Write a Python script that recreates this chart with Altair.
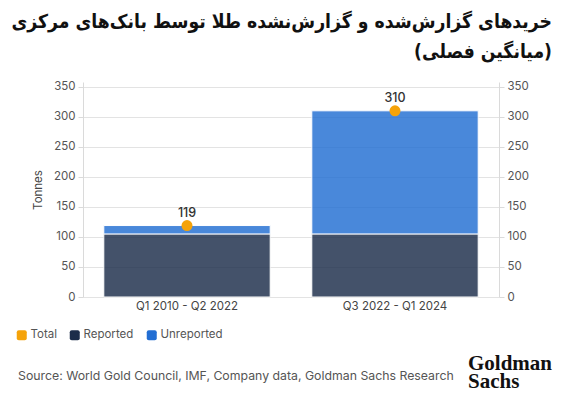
import altair as alt
import pandas as pd

categories = ["Q1 2010 - Q2 2022", "Q3 2022 - Q1 2024"]
reported = [105, 105]
unreported = [14, 205]
totals = [119, 310]
series_names = ["Total", "Reported", "Unreported"]
series_colors = ["#F5A30A", "#1C2D4A", "#226ED3"]
y_ticks = [0, 50, 100, 150, 200, 250, 300, 350]

title_lines = ["خریدهای گزارش‌شده و گزارش‌نشده طلا توسط بانک‌های مرکزی", "(میانگین فصلی)"]
source_text = "Source: World Gold Council, IMF, Company data, Goldman Sachs Research"
logo_lines = ["Goldman", "Sachs"]

bars_df = pd.DataFrame({
    "period": categories * 2,
    "series": ["Reported"] * len(categories) + ["Unreported"] * len(categories),
    "value": reported + unreported,
    "ord": [1] * len(categories) + [2] * len(categories),
})
tot_df = pd.DataFrame({"period": categories, "series": ["Total"] * len(categories), "value": totals})
one = pd.DataFrame({"t": [source_text]})
logo1_df = pd.DataFrame({"t": [logo_lines[0]]})
logo2_df = pd.DataFrame({"t": [logo_lines[1]]})
t1_df = pd.DataFrame({"t": [title_lines[0]]})
t2_df = pd.DataFrame({"t": [title_lines[1]]})

FONT = "Inter"
TFONT = "DejaVu Sans Condensed"
rounded = "M-0.6,-1 L0.6,-1 Q1,-1 1,-0.6 L1,0.6 Q1,1 0.6,1 L-0.6,1 Q-1,1 -1,0.6 L-1,-0.6 Q-1,-1 -0.6,-1 Z"

xenc = alt.X("period:N", sort=categories,
             scale=alt.Scale(paddingInner=0.2, paddingOuter=0.1),
             axis=alt.Axis(title=None, labelAngle=0, ticks=False, domain=False,
                           labelPadding=3, labelFontSize=11.5, labelColor="#444", labelFont=FONT))
yscale = alt.Scale(domain=[0, 358], nice=False)
color = alt.Color("series:N", scale=alt.Scale(domain=series_names, range=series_colors),
                  legend=alt.Legend(title=None, orient="none", legendX=-67, legendY=247,
                                    direction="horizontal", symbolType=rounded, symbolSize=100,
                                    symbolOpacity=1, symbolStrokeWidth=0, labelFontSize=11.5,
                                    labelColor="#555", labelFont=FONT, columnPadding=12, labelOffset=3))

bars = alt.Chart(bars_df).mark_bar(opacity=0.82, stroke="white", strokeWidth=1).encode(
    x=xenc,
    y=alt.Y("value:Q", stack="zero", scale=yscale,
            axis=alt.Axis(values=y_ticks, title="Tonnes", titleFontSize=11.5, titleFontWeight="normal",
                          titleColor="#444", titleFont=FONT, titlePadding=10,
                          labelFontSize=11.5, labelColor="#555", labelFont=FONT, labelPadding=3,
                          gridColor="#e3e3e3", domainColor="#dadada", tickColor="#dadada", tickSize=5)),
    color=color,
    order=alt.Order("ord:Q"),
)

points = alt.Chart(tot_df).mark_circle(size=120, opacity=1).encode(
    x=alt.X("period:N", sort=categories),
    y=alt.Y("value:Q", scale=yscale,
            axis=alt.Axis(values=y_ticks, orient="right", title=None, grid=False,
                          labelFontSize=11.5, labelColor="#555", labelFont=FONT, labelPadding=3,
                          domainColor="#dadada", tickColor="#dadada", tickSize=5)),
    color=color,
)

labels = alt.Chart(tot_df).mark_text(dy=-13, fontSize=12.5, fontWeight=500, color="#333", font=FONT).encode(
    x=alt.X("period:N", sort=categories),
    y=alt.Y("value:Q", scale=yscale, axis=None),
    text=alt.Text("value:Q"),
)

source = alt.Chart(one).mark_text(align="left", baseline="middle", fontSize=12.3, color="#555", font=FONT).encode(
    x=alt.value(-65), y=alt.value(294), text="t:N")

logo1 = alt.Chart(logo1_df).mark_text(align="left", baseline="alphabetic", fontSize=21, fontWeight="bold",
                                      font="Liberation Serif", color="#111").encode(
    x=alt.value(385), y=alt.value(288), text="t:N")
logo2 = alt.Chart(logo2_df).mark_text(align="left", baseline="alphabetic", fontSize=21, fontWeight="bold",
                                      font="Liberation Serif", color="#111").encode(
    x=alt.value(385), y=alt.value(306), text="t:N")

title1 = alt.Chart(t1_df).mark_text(align="right", baseline="middle", fontSize=19.2, fontWeight="bold",
                                    font=TFONT, color="#111").encode(
    x=alt.value(469), y=alt.value(-60), text="t:N")
title2 = alt.Chart(t2_df).mark_text(align="right", baseline="middle", fontSize=19.2, fontWeight="bold",
                                    font=TFONT, color="#111").encode(
    x=alt.value(469), y=alt.value(-30), text="t:N")

chart = alt.layer(bars, points, labels, source, logo1, logo2, title1, title2).resolve_axis(y="independent").resolve_scale(y="shared").properties(
    width=416, height=215,
    autosize=alt.AutoSizeParams(type="none"),
    padding={"left": 75, "top": 74, "right": 60, "bottom": 95},
).configure_view(stroke=None)

chart.save("out.html", embed_options={"renderer": "svg", "actions": False})
